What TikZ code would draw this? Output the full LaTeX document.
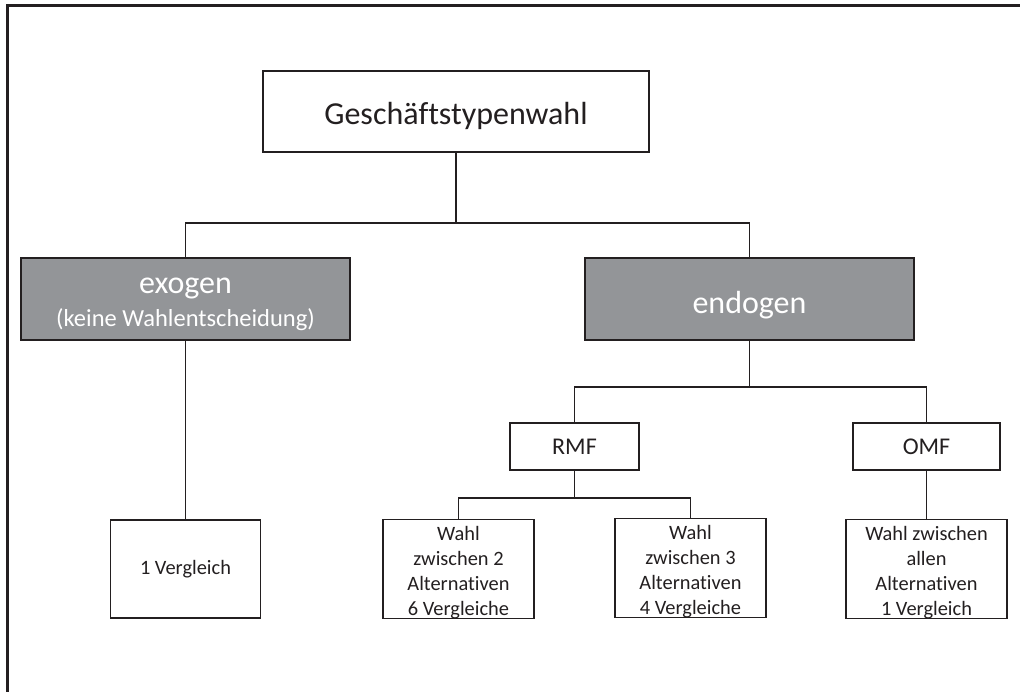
\documentclass[tikz,border=0pt]{standalone}
\usepackage{fontspec}
\setmainfont{Carlito}[Ligatures=NoCommon]
\definecolor{ink}{HTML}{231F20}
\definecolor{boxgray}{HTML}{939598}
% invisible strut that lowers the text block a little inside its box
\newcommand{\lowerby}[1]{\rule{0pt}{#1}}
\begin{document}
\begin{tikzpicture}[x=1pt,y=1pt,
  box/.style={draw=ink,line width=1.4pt,fill=white,text=ink,inner sep=0pt,align=center},
  darkbox/.style={box,fill=boxgray,text=white},
  link/.style={draw=ink,line width=1.3pt},
  big/.style={font=\fontsize{32}{39}\selectfont},
  mid/.style={font=\fontsize{24}{29}\selectfont},
  small/.style={font=\fontsize{20.4}{25}\selectfont}]
\useasboundingbox (0,0) rectangle (1020,-692);
% page frame: top and left edges only
\draw[ink,line width=3pt] (7.5,-692) -- (7.5,-5.5) -- (1020,-5.5);

% tree nodes
\node[box,big,minimum width=386pt,minimum height=81pt] (top) at (456,-111.5) {\lowerby{31pt}Geschäftstypenwahl};
\node[darkbox,font=\fontsize{24.5}{33}\selectfont,minimum width=329pt,minimum height=82pt] (exo) at (185.5,-299)
  {\lowerby{26pt}{\fontsize{32}{33}\selectfont exogen}\\(keine Wahlentscheidung)};
\node[darkbox,big,minimum width=329pt,minimum height=82pt] (endo) at (749.5,-299) {\lowerby{34pt}endogen};
\node[box,mid,minimum width=129pt,minimum height=47pt] (rmf) at (574.5,-446.5) {RMF};
\node[box,mid,minimum width=147pt,minimum height=47pt] (omf) at (926.5,-446.5) {OMF};
\node[box,small,minimum width=150pt,minimum height=98pt] (one) at (185.5,-569) {1 Vergleich};
\node[box,small,minimum width=151pt,minimum height=98pt] (wtwo) at (458.5,-569)
  {\lowerby{21pt}Wahl\\zwischen 2\\Alternativen\\6 Vergleiche};
\node[box,small,minimum width=151pt,minimum height=98pt] (wthree) at (690.5,-568)
  {\lowerby{21pt}Wahl\\zwischen 3\\Alternativen\\4 Vergleiche};
\node[box,small,minimum width=161pt,minimum height=98pt] (wall) at (926.5,-569)
  {\lowerby{21pt}Wahl zwischen\\allen\\Alternativen\\1 Vergleich};

% junction points of the connectors
\coordinate (jtop) at (456,-223);
\coordinate (jendo) at (749.5,-387);
\coordinate (jrmf) at (574.5,-498);

% connectors
\draw[link] (top.south) -- (jtop);
\draw[link] (exo.north) |- (jtop) -| (endo.north);
\draw[link] (exo.south) -- (one.north);
\draw[link] (endo.south) -- (jendo);
\draw[link] (rmf.north) |- (jendo) -| (omf.north);
\draw[link] (rmf.south) -- (jrmf);
\draw[link] (wtwo.north) |- (jrmf) -| (wthree.north);
\draw[link] (omf.south) -- (wall.north);
\end{tikzpicture}
\end{document}
